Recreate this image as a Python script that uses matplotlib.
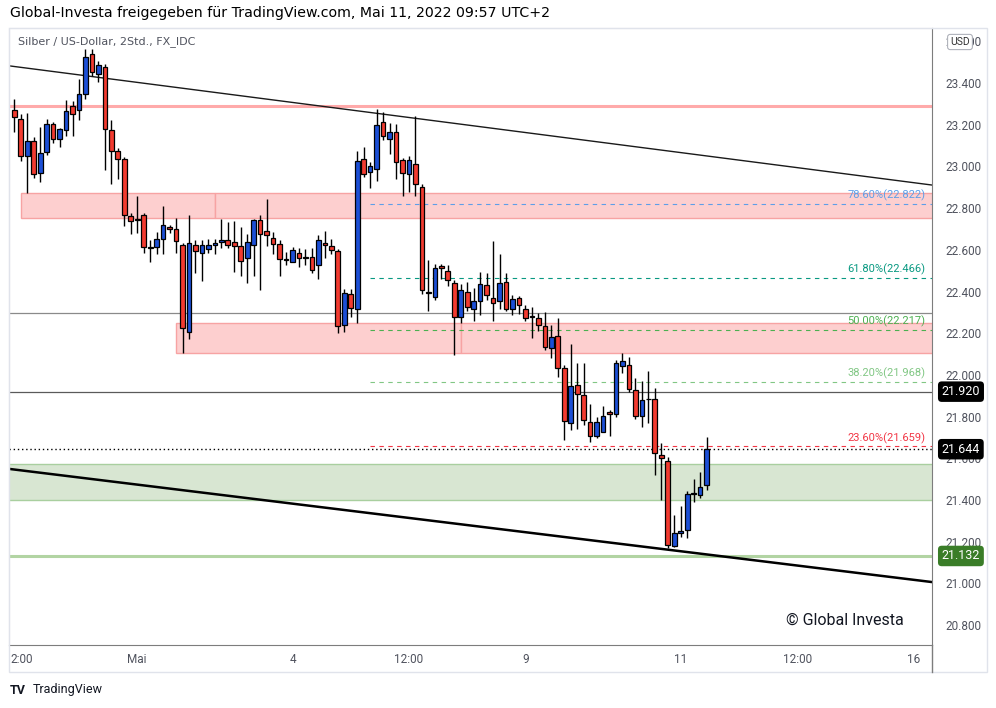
import matplotlib.pyplot as plt
import numpy as np
from matplotlib.patches import Rectangle
from matplotlib.lines import Line2D
import matplotlib.transforms as mtransforms

plt.rcParams['font.family'] = ['Roboto', 'DejaVu Sans']

# 2h-Kerzen Silber / USD
opens = [23.271, 23.227, 23.050, 23.122, 22.968, 23.069, 23.203, 23.131, 23.175, 23.290,
         23.271, 23.347, 23.539, 23.443, 23.477, 23.175, 23.074, 23.035, 22.762, 22.748,
         22.767, 22.613, 22.613, 22.652, 22.709, 22.700, 22.623, 22.206, 22.623, 22.585,
         22.604, 22.623, 22.638, 22.647, 22.638, 22.618, 22.561, 22.623, 22.743, 22.690,
         22.657, 22.628, 22.553, 22.542, 22.585, 22.563, 22.565, 22.527, 22.633, 22.618,
         22.594, 22.239, 22.388, 22.316, 23.035, 22.973, 22.988, 23.213, 23.131, 23.165,
         23.031, 22.964, 23.011, 22.901, 22.395, 22.374, 22.522, 22.498, 22.441, 22.278,
         22.398, 22.316, 22.354, 22.431, 22.369, 22.354, 22.446, 22.316, 22.369, 22.316,
         22.280, 22.273, 22.235, 22.129, 22.187, 22.033, 21.769, 21.952, 21.904, 21.774,
         21.707, 21.726, 21.822, 21.812, 22.043, 22.047, 21.928, 21.803, 21.885, 21.884,
         21.616, 21.587, 21.179, 21.242, 21.256, 21.429, 21.424, 21.472]
highs = [23.323, 23.251, 23.256, 23.141, 23.189, 23.227, 23.213, 23.184, 23.318, 23.314,
         23.419, 23.563, 23.563, 23.506, 23.491, 23.223, 23.088, 23.045, 22.777, 22.858,
         22.777, 22.647, 22.685, 22.810, 22.719, 22.753, 22.633, 22.767, 22.647, 22.647,
         22.652, 22.652, 22.748, 22.733, 22.738, 22.709, 22.676, 22.748, 22.767, 22.844,
         22.685, 22.647, 22.589, 22.613, 22.609, 22.604, 22.609, 22.671, 22.690, 22.652,
         22.604, 22.412, 22.412, 23.074, 23.093, 23.021, 23.275, 23.261, 23.208, 23.203,
         23.040, 23.050, 23.242, 22.916, 22.551, 22.532, 22.532, 22.527, 22.455, 22.436,
         22.446, 22.417, 22.494, 22.489, 22.642, 22.580, 22.489, 22.383, 22.379, 22.335,
         22.326, 22.297, 22.302, 22.239, 22.273, 22.047, 22.148, 22.057, 22.057, 21.860,
         21.798, 21.851, 21.832, 22.071, 22.105, 22.086, 21.985, 21.971, 22.019, 21.937,
         21.674, 21.606, 21.328, 21.371, 21.443, 21.501, 21.534, 21.702]
lows = [23.165, 23.026, 22.872, 22.944, 22.925, 23.055, 23.112, 23.093, 23.146, 23.146,
        23.223, 23.323, 23.434, 23.405, 22.983, 22.916, 22.940, 22.714, 22.676, 22.681,
        22.585, 22.541, 22.580, 22.580, 22.681, 22.585, 22.105, 22.172, 22.489, 22.450,
        22.585, 22.580, 22.609, 22.609, 22.494, 22.474, 22.441, 22.474, 22.407, 22.618,
        22.580, 22.474, 22.527, 22.542, 22.518, 22.527, 22.489, 22.460, 22.561, 22.580,
        22.201, 22.206, 22.278, 22.249, 22.949, 22.896, 22.930, 23.127, 23.059, 22.940,
        22.858, 22.877, 22.858, 22.388, 22.306, 22.359, 22.460, 22.426, 22.095, 22.249,
        22.306, 22.259, 22.287, 22.359, 22.259, 22.316, 22.306, 22.287, 22.292, 22.259,
        22.177, 22.210, 22.119, 22.081, 21.990, 21.688, 21.736, 21.741, 21.760, 21.678,
        21.697, 21.726, 21.707, 21.798, 22.009, 21.918, 21.789, 21.750, 21.769, 21.520,
        21.400, 21.170, 21.175, 21.223, 21.218, 21.390, 21.410, 21.448]
closes = [23.237, 23.050, 23.122, 22.964, 23.064, 23.203, 23.131, 23.179, 23.266, 23.251,
          23.347, 23.525, 23.453, 23.486, 23.179, 23.074, 23.035, 22.767, 22.738, 22.743,
          22.613, 22.610, 22.652, 22.719, 22.700, 22.642, 22.225, 22.633, 22.594, 22.623,
          22.623, 22.633, 22.647, 22.623, 22.618, 22.546, 22.638, 22.743, 22.676, 22.671,
          22.628, 22.556, 22.551, 22.599, 22.561, 22.561, 22.503, 22.647, 22.623, 22.599,
          22.235, 22.393, 22.321, 23.026, 22.964, 23.002, 23.199, 23.146, 23.165, 23.021,
          22.968, 23.031, 22.916, 22.407, 22.393, 22.513, 22.513, 22.455, 22.278, 22.407,
          22.326, 22.354, 22.436, 22.383, 22.345, 22.441, 22.316, 22.364, 22.335, 22.273,
          22.278, 22.239, 22.134, 22.182, 22.033, 21.779, 21.947, 21.908, 21.784, 21.707,
          21.774, 21.803, 21.812, 22.057, 22.067, 21.932, 21.803, 21.880, 21.884, 21.626,
          21.601, 21.184, 21.242, 21.251, 21.429, 21.431, 21.462, 21.644]

# Zeitachse (Kerzenindex)
time_ticks = [1.2, 19, 43, 61, 79, 103, 121, 139]
time_labels = ['2:00', 'Mai', '4', '12:00', '9', '11', '12:00', '16']

# Zeichnungen
trend_top_x, trend_top_y = [-0.66, 141.8], [23.482, 22.911]
trend_bot_x, trend_bot_y = [-0.66, 141.8], [21.549, 21.007]
red_zones = [(1.0, 31.0, 22.753, 22.872), (31.0, 142.0, 22.753, 22.872),
             (25.0, 69.0, 22.105, 22.249), (69.0, 142.0, 22.105, 22.249)]
green_zone = (-1.0, 142.0, 21.400, 21.573)
resistance = 23.290
gray_levels = [22.297, 21.920]
support = 21.132
last_price = 21.644
fib_labels = ['78.60%', '61.80%', '50.00%', '38.20%', '23.60%']
fib_prices = [22.822, 22.466, 22.217, 21.968, 21.659]
fib_colors = ['#5d9ee8', '#089981', '#4caf50', '#81c784', '#f23645']
fib_start = 55

fig = plt.figure(figsize=(9.96, 7.08), dpi=100)
ax = fig.add_axes([9 / 996, 63 / 708, 923 / 996, 617 / 708])
ax.set_xlim(-0.82, 141.84)
ax.set_ylim(20.705, 23.664)

# Zonen
for x0, x1, y0, y1 in red_zones:
    ax.add_patch(Rectangle((x0, y0), x1 - x0, y1 - y0, facecolor='#fdcfcf',
                           edgecolor='#f7a3a3', lw=1, zorder=1))
gx0, gx1, gy0, gy1 = green_zone
ax.add_patch(Rectangle((gx0, gy0), gx1 - gx0, gy1 - gy0, facecolor='#d8e6d2',
                       edgecolor='#a9cf9f', lw=1, zorder=1))

# Linien
ax.axhline(resistance, color='#ffaaaa', lw=2.2, zorder=1.5)
ax.axhline(gray_levels[0], color='#8a8a8a', lw=0.9, zorder=1.5)
ax.axhline(gray_levels[1], color='#5a5a5a', lw=0.9, zorder=1.5)
ax.axhline(support, color='#b2d4a3', lw=2.2, zorder=1.5)
ax.axhline(last_price, color='black', lw=1, ls=(0, (1, 2)), zorder=1.5)
ax.plot(trend_top_x, trend_top_y, color='#1a1a1a', lw=1, zorder=2)
ax.plot(trend_bot_x, trend_bot_y, color='black', lw=1.8, zorder=2)

for lab, p, col in zip(fib_labels, fib_prices, fib_colors):
    ax.plot([fib_start, 141.84], [p, p], color=col, lw=0.8, ls=(0, (4, 4)), zorder=1.6)
    ax.text(140.8, p + 0.012, f'{lab}({p:.3f})', color=col, fontsize=8,
            ha='right', va='bottom', zorder=5)

# Kerzen
idx = np.arange(len(opens))
o, h, l, c = (np.array(a) for a in (opens, highs, lows, closes))
colors = np.where(c >= o, '#1c4fd6', '#f23b30')
ax.vlines(idx, l, h, color='black', lw=1, zorder=3)
ax.bar(idx, np.maximum(np.abs(c - o), 0.003), bottom=np.minimum(o, c), width=0.72,
       color=colors, edgecolor='black', linewidth=0.9, zorder=4)

# Achsen
ax.yaxis.tick_right()
yt = np.arange(20.8, 23.61, 0.2)
ax.set_yticks(yt)
ax.set_yticklabels([f'{v:.3f}' for v in yt])
ax.set_xticks(time_ticks)
ax.set_xticklabels(time_labels)
ax.tick_params(axis='y', length=0, pad=10, labelsize=8.5, labelcolor='#50535e')
ax.tick_params(axis='x', length=0, pad=6, labelsize=8.5, labelcolor='#50535e')
for s in ('top', 'left'):
    ax.spines[s].set_color('#e0e3eb')
for s in ('bottom', 'right'):
    ax.spines[s].set_color('#7d7d7d')

# Preisschilder
trans = mtransforms.blended_transform_factory(ax.transAxes, ax.transData)
for p, col in [(21.920, 'black'), (last_price, 'black'), (support, '#3a7d28')]:
    ax.annotate(f'{p:.3f}', xy=(1, p), xycoords=trans, xytext=(7, 0),
                textcoords='offset points', ha='left', va='center', color='white',
                fontsize=9, annotation_clip=False, zorder=10,
                bbox=dict(boxstyle='round,pad=0.3', fc=col, ec='none'))

# Rahmen
fig.add_artist(Rectangle((9 / 996, 36 / 708), 978 / 996, 644 / 708, transform=fig.transFigure,
                         fill=False, edgecolor='#e0e3eb', lw=1))
fig.add_artist(Line2D([932 / 996, 932 / 996], [36 / 708, 63 / 708], transform=fig.transFigure,
                      color='#7d7d7d', lw=1))

fig.text(960 / 996, 1 - 42 / 708, 'USD', fontsize=7.5, color='#333333', ha='center', va='center',
         bbox=dict(boxstyle='round,pad=0.25', fc='white', ec='#b0b3bb', lw=0.8))

fig.text(10 / 996, 1 - 13 / 708,
         'Global-Investa freigegeben für TradingView.com, Mai 11, 2022 09:57 UTC+2',
         fontsize=10.2, family='DejaVu Sans', color='black', va='center')
fig.text(18 / 996, 1 - 42 / 708, 'Silber / US-Dollar, 2Std., FX_IDC', fontsize=8,
         family='DejaVu Sans', color='#50535e', va='center')
fig.text(786 / 996, 1 - 620 / 708, '© Global Investa', fontsize=11.5, color='#131722', va='center')
fig.text(10 / 996, 1 - 690 / 708, 'TV', fontsize=9, fontweight='bold', color='#131722', va='center')
fig.text(33 / 996, 1 - 690 / 708, 'TradingView', fontsize=9, color='#131722', va='center')

fig.savefig('out.png', dpi=100, facecolor='white')
